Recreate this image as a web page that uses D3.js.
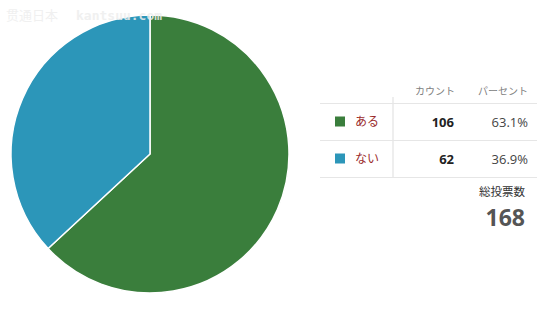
<!DOCTYPE html>
<html>
<head>
<meta charset="utf-8">
<script src="https://cdn.jsdelivr.net/npm/d3@7"></script>
<style>
  body { margin: 0; background: #fff; }
  svg { display: block; font-family: "Noto Sans CJK JP", "Open Sans", sans-serif; }
</style>
</head>
<body>
<div id="chart"></div>
<script>
var categories = ["ある", "ない"];
var counts = [106, 62];
var percents = ["63.1%", "36.9%"];
var colors = ["#3a7e3c", "#2c96b9"];
var headers = ["カウント", "パーセント"];
var totalLabel = "総投票数";

var width = 542, height = 311;

var svg = d3.select("#chart").append("svg")
  .attr("width", width)
  .attr("height", height);

// pie
var cx = 150, cy = 154, radius = 139;

var pie = d3.pie().sort(null).value(function(d){ return d; });
var arc = d3.arc().innerRadius(0).outerRadius(radius);

var g = svg.append("g")
  .attr("transform", "translate(" + cx + "," + cy + ")");

g.selectAll("path")
  .data(pie(counts))
  .enter().append("path")
  .attr("d", arc)
  .attr("fill", function(d, i){ return colors[i]; })
  .attr("stroke", "#fff")
  .attr("stroke-width", 1.5);

// watermark
svg.append("text")
  .attr("x", 6).attr("y", 20)
  .attr("font-size", 13)
  .attr("fill", "#f0f0f0")
  .text("贯通日本");
svg.append("text")
  .attr("x", 76).attr("y", 20)
  .attr("font-size", 13)
  .attr("font-weight", "bold")
  .attr("font-family", "DejaVu Sans Mono, monospace")
  .attr("fill", "#eeeeee")
  .attr("opacity", 0.85)
  .text("kantsuu.com");

// table
var tx0 = 320, tx1 = 537, vx = 393;
var rowY = d3.scaleBand().domain(categories).range([103, 177]);

var table = svg.append("g");

table.append("text")
  .attr("x", 455).attr("y", 95)
  .attr("text-anchor", "end")
  .attr("font-size", 10)
  .attr("fill", "#808080")
  .text(headers[0]);
table.append("text")
  .attr("x", 528).attr("y", 95)
  .attr("text-anchor", "end")
  .attr("font-size", 10)
  .attr("fill", "#808080")
  .text(headers[1]);

table.append("line")
  .attr("x1", vx).attr("x2", vx)
  .attr("y1", 97).attr("y2", 177)
  .attr("stroke", "#ddd");

var lines = [103].concat(categories.map(function(c){ return rowY(c) + rowY.bandwidth(); }));
table.selectAll(".hline")
  .data(lines)
  .enter().append("line")
  .attr("class", "hline")
  .attr("x1", tx0).attr("x2", tx1)
  .attr("y1", function(d){ return d + 0.5; })
  .attr("y2", function(d){ return d + 0.5; })
  .attr("stroke", "#e6e6e6");

var rows = table.selectAll(".row")
  .data(categories)
  .enter().append("g")
  .attr("class", "row")
  .attr("transform", function(d){ return "translate(0," + (rowY(d) + rowY.bandwidth() / 2) + ")"; });

rows.append("rect")
  .attr("x", 335).attr("y", -5)
  .attr("width", 10).attr("height", 10)
  .attr("fill", function(d, i){ return colors[i]; });

rows.append("text")
  .attr("x", 355).attr("y", 4.5)
  .attr("font-size", 12)
  .attr("fill", "#9b2b2b")
  .text(function(d){ return d; });

rows.append("text")
  .attr("x", 454).attr("y", 5)
  .attr("text-anchor", "end")
  .attr("font-size", 13)
  .attr("font-weight", "bold")
  .attr("font-family", "Open Sans, sans-serif")
  .attr("fill", "#222")
  .text(function(d, i){ return counts[i]; });

rows.append("text")
  .attr("x", 528).attr("y", 5)
  .attr("text-anchor", "end")
  .attr("font-size", 13)
  .attr("font-family", "Open Sans, sans-serif")
  .attr("fill", "#444")
  .text(function(d, i){ return percents[i]; });

// total
svg.append("text")
  .attr("x", 525).attr("y", 196)
  .attr("text-anchor", "end")
  .attr("font-size", 11.5)
  .attr("fill", "#333")
  .text(totalLabel);

svg.append("text")
  .attr("x", 525).attr("y", 226)
  .attr("text-anchor", "end")
  .attr("font-size", 23)
  .attr("font-weight", "bold")
  .attr("font-family", "Open Sans, sans-serif")
  .attr("fill", "#555")
  .text(d3.sum(counts));
</script>
</body>
</html>
